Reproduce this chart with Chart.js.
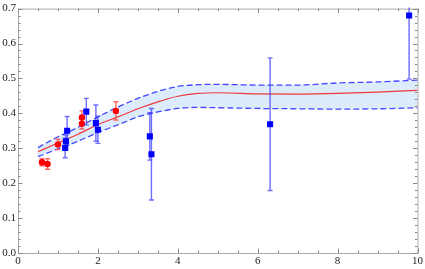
<!DOCTYPE html>
<html>
<head>
<meta charset="utf-8">
<script src="https://cdn.jsdelivr.net/npm/chart.js@4/dist/chart.umd.min.js"></script>
<style>
  html, body { margin: 0; padding: 0; background: #ffffff; }
  #wrap { width: 425px; height: 269px; position: relative; }
</style>
</head>
<body>
<div id="wrap"><canvas id="c" width="425" height="269"></canvas></div>
<script>
// ---- data ----
const redX   = [0.60, 0.74, 1.00, 1.60, 1.60, 2.45];
const redY   = [0.260, 0.255, 0.311, 0.388, 0.370, 0.407];
const redErr = [0.010, 0.015, 0.015, 0.019, 0.015, 0.026];

const blueX   = [1.18, 1.20, 1.23, 1.71, 1.95, 2.00, 3.30, 3.34, 6.31, 9.79];
const blueY   = [0.301, 0.320, 0.350, 0.405, 0.372, 0.353, 0.334, 0.283, 0.369, 0.680];
const blueErr = [0.028, 0.018, 0.041, 0.038, 0.052, 0.039, 0.068, 0.131, 0.190, 0.182];

const bandX     = [0.5, 1.0, 1.5, 2.0, 2.5, 3.0, 3.5, 4.0, 4.5, 5.0, 6.0, 7.0, 8.0, 9.0, 10.0];
const bandMid   = [0.290, 0.315, 0.340, 0.368, 0.390, 0.413, 0.433, 0.449, 0.457, 0.459, 0.456, 0.455, 0.457, 0.461, 0.466];
const bandUpper = [0.302, 0.333, 0.360, 0.390, 0.418, 0.443, 0.463, 0.477, 0.482, 0.483, 0.481, 0.481, 0.487, 0.490, 0.495];
const bandLower = [0.276, 0.298, 0.320, 0.345, 0.367, 0.390, 0.404, 0.414, 0.417, 0.416, 0.414, 0.413, 0.412, 0.413, 0.416];

const xTickValues = [0, 2, 4, 6, 8, 10];
const yTickValues = [0.0, 0.1, 0.2, 0.3, 0.4, 0.5, 0.6, 0.7];

const pts = (xs, ys) => xs.map((x, i) => ({ x: x, y: ys[i] }));

const errorBars = {
  id: 'errorBars',
  beforeDatasetDraw(chart, args) {
    const sets = { 3: [redX, redY, redErr, 'rgba(255,80,80,0.85)'], 4: [blueX, blueY, blueErr, 'rgba(60,60,255,0.75)'] };
    const s = sets[args.index];
    if (!s) return;
    const [xs, ys, es, col] = s;
    const xs_ = chart.scales.x, ys_ = chart.scales.y, a = chart.chartArea;
    const ctx = chart.ctx;
    ctx.save();
    ctx.beginPath();
    ctx.rect(a.left, a.top - 1, a.right - a.left, a.bottom - a.top + 1);
    ctx.clip();
    ctx.strokeStyle = col;
    ctx.lineWidth = 1.4;
    xs.forEach((x, i) => {
      const px = xs_.getPixelForValue(x);
      const p1 = ys_.getPixelForValue(ys[i] + es[i]);
      const p2 = ys_.getPixelForValue(ys[i] - es[i]);
      ctx.beginPath();
      ctx.moveTo(px, p1); ctx.lineTo(px, p2);
      ctx.moveTo(px - 2.5, p1); ctx.lineTo(px + 2.5, p1);
      ctx.moveTo(px - 2.5, p2); ctx.lineTo(px + 2.5, p2);
      ctx.stroke();
    });
    ctx.restore();
  }
};

const frame = {
  id: 'frame',
  beforeDatasetsDraw(chart) {
    const ctx = chart.ctx, a = chart.chartArea;
    const sx = chart.scales.x, sy = chart.scales.y;
    ctx.save();
    ctx.strokeStyle = '#a8a8a8';
    ctx.lineWidth = 1;
    ctx.strokeRect(a.left + 0.5, a.top + 0.5, a.right - a.left, a.bottom - a.top);
    ctx.strokeStyle = '#888888';
    ctx.beginPath();
    for (let k = 0; k <= 20; k++) {
      const v = k * 0.5;
      const px = Math.round(sx.getPixelForValue(v)) + 0.5;
      const len = (k % 4 === 0) ? 4.5 : 2.5;
      ctx.moveTo(px, a.bottom); ctx.lineTo(px, a.bottom - len);
      ctx.moveTo(px, a.top); ctx.lineTo(px, a.top + len);
    }
    for (let k = 0; k <= 35; k++) {
      const v = k * 0.02;
      const py = Math.round(sy.getPixelForValue(v)) + 0.5;
      const len = (k % 5 === 0) ? 4.5 : 2.5;
      ctx.moveTo(a.left, py); ctx.lineTo(a.left + len, py);
      ctx.moveTo(a.right, py); ctx.lineTo(a.right - len, py);
    }
    ctx.stroke();
    ctx.restore();
  }
};

const dashCol = 'rgba(40,40,255,0.85)';
const serif = "'Liberation Serif', 'Times New Roman', 'DejaVu Serif', serif";

new Chart(document.getElementById('c'), {
  type: 'scatter',
  data: {
    datasets: [
      { type: 'line', data: pts(bandX, bandUpper), borderColor: dashCol, borderWidth: 1.3, borderDash: [6, 3],
        pointRadius: 0, fill: '+1', backgroundColor: '#dcecfc', cubicInterpolationMode: 'monotone', order: 3 },
      { type: 'line', data: pts(bandX, bandLower), borderColor: dashCol, borderWidth: 1.3, borderDash: [6, 3],
        pointRadius: 0, fill: false, cubicInterpolationMode: 'monotone', order: 3 },
      { type: 'line', data: pts(bandX, bandMid), borderColor: '#ee3a3a', borderWidth: 1.2,
        pointRadius: 0, fill: false, cubicInterpolationMode: 'monotone', order: 2 },
      { data: pts(redX, redY), pointStyle: 'circle', pointRadius: 3.2, backgroundColor: '#ff0000',
        borderColor: '#ff0000', borderWidth: 0, order: 1 },
      { data: pts(blueX, blueY), pointStyle: 'rect', pointRadius: 4.3, backgroundColor: '#0000ff',
        borderColor: '#0000ff', borderWidth: 0, order: 0 }
    ]
  },
  options: {
    responsive: false,
    animation: false,
    devicePixelRatio: 1,
    layout: { padding: { left: 0, right: 7, top: 6, bottom: 0 } },
    plugins: {
      legend: { display: false },
      tooltip: { enabled: false },
      filler: { drawTime: 'beforeDatasetsDraw' }
    },
    scales: {
      x: {
        type: 'linear', min: 0, max: 10,
        grid: { display: false, drawTicks: false },
        border: { display: false },
        afterBuildTicks: (s) => { s.ticks = xTickValues.map(v => ({ value: v })); },
        afterFit: (s) => { s.height = 16; },
        ticks: { padding: 2, maxRotation: 0, autoSkip: false, color: '#222',
                 font: { family: serif, size: 11 },
                 callback: (v) => String(v) }
      },
      y: {
        type: 'linear', min: 0, max: 0.7,
        grid: { display: false, drawTicks: false },
        border: { display: false },
        afterBuildTicks: (s) => { s.ticks = yTickValues.map(v => ({ value: v })); },
        afterFit: (s) => { s.width = 18; },
        ticks: { padding: 2, autoSkip: false, color: '#222',
                 font: { family: serif, size: 11 },
                 callback: (v) => Number(v).toFixed(1) }
      }
    }
  },
  plugins: [frame, errorBars]
});
</script>
</body>
</html>
